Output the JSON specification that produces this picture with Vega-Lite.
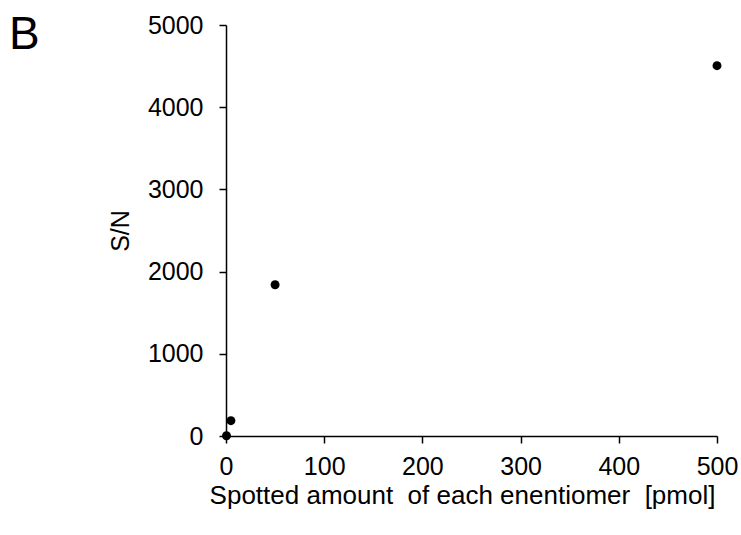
{
  "$schema": "https://vega.github.io/schema/vega-lite/v6.json",
  "autosize": "none",
  "width": 491,
  "height": 411,
  "padding": {"left": 226, "top": 25, "right": 24, "bottom": 99},
  "background": "white",
  "title": {"text": "B", "anchor": "start", "frame": "group", "fontSize": 46, "font": "Liberation Sans", "fontWeight": "normal", "color": "black", "dx": -217, "dy": 46, "offset": 0},
  "data": {"values": [
    {"amount": 0.5, "sn": 3},
    {"amount": 5, "sn": 186},
    {"amount": 50, "sn": 1840},
    {"amount": 500, "sn": 4505}
  ]},
  "mark": {"type": "point", "filled": true, "color": "black", "opacity": 1, "size": 80, "shape": "circle"},
  "encoding": {
    "x": {"field": "amount", "type": "quantitative", "scale": {"domain": [0, 500], "nice": false},
      "axis": {"values": [0, 100, 200, 300, 400, 500], "format": "d", "labelFlush": false, "grid": false, "domainColor": "black", "domainWidth": 1.5, "tickColor": "black", "tickSize": 7, "tickWidth": 1.5,
        "labelFont": "Liberation Sans", "labelFontSize": 25, "labelColor": "black", "labelPadding": 11,
        "title": "Spotted amount\u00a0 of each enentiomer\u00a0 [pmol]", "titleFont": "Liberation Sans", "titleFontSize": 26, "titleFontWeight": "normal", "titleColor": "black", "titlePadding": 3, "titleX": 236}},
    "y": {"field": "sn", "type": "quantitative", "scale": {"domain": [0, 5000], "nice": false},
      "axis": {"values": [0, 1000, 2000, 3000, 4000, 5000], "format": "d", "labelFlush": false, "grid": false, "domainColor": "black", "domainWidth": 1.5, "tickColor": "black", "tickSize": 7, "tickWidth": 1.5,
        "labelFont": "Liberation Sans", "labelFontSize": 25, "labelColor": "black", "labelPadding": 16,
        "title": "S/N", "titleFont": "Liberation Sans", "titleFontSize": 25, "titleFontWeight": "normal", "titleColor": "black", "titlePadding": 14}}
  },
  "config": {"view": {"stroke": null}}
}
